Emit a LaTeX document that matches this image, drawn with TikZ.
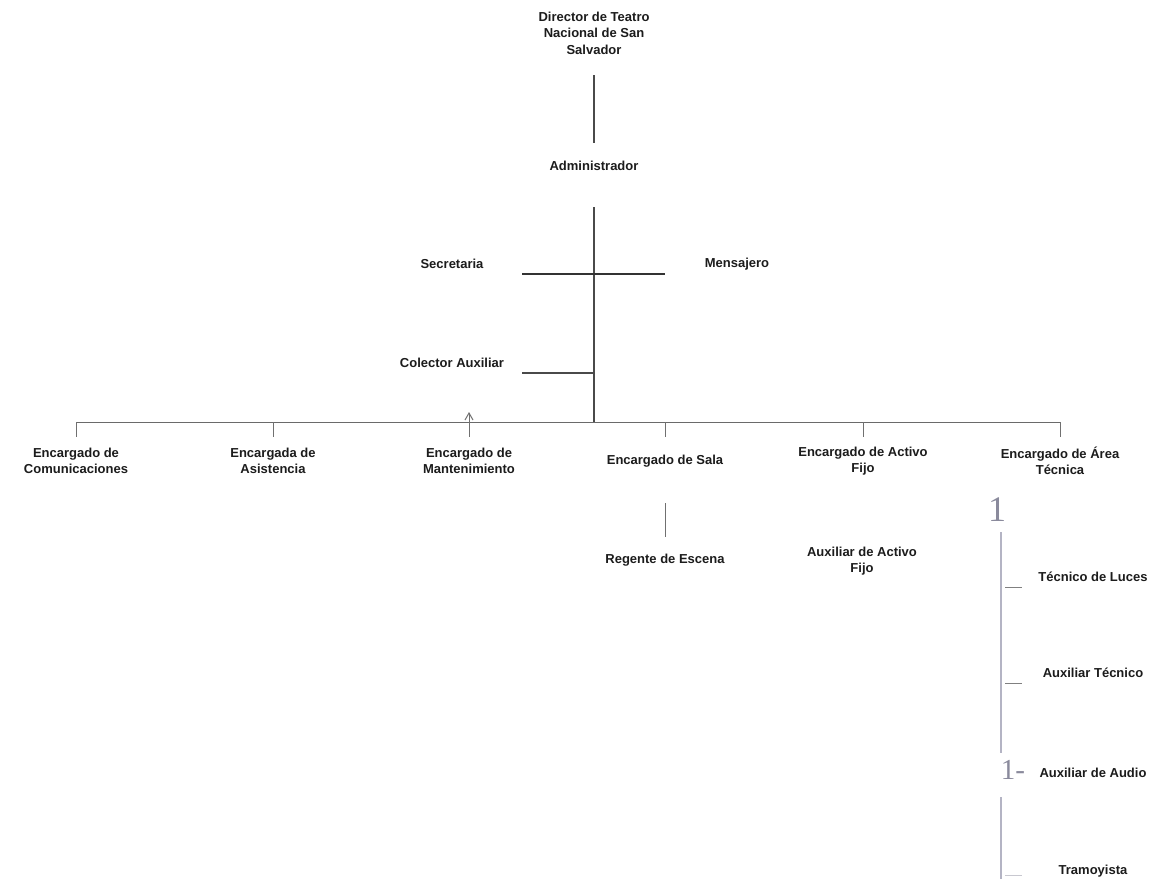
\documentclass[tikz,border=0pt]{standalone}
\usepackage{fontspec}
\setmainfont{Liberation Sans}
\newfontfamily\artfont{Liberation Serif}
\definecolor{txt}{HTML}{1C1C1C}
\definecolor{trunkc}{HTML}{4A4A4A}
\definecolor{secc}{HTML}{333333}
\definecolor{busc}{HTML}{6A6A6A}
\definecolor{dropc}{HTML}{707070}
\definecolor{rvc}{HTML}{B4B4C4}
\definecolor{tickc}{HTML}{808080}
\definecolor{faintc}{HTML}{C8C8D0}
\definecolor{artc}{HTML}{8A8A9C}
\begin{document}
\begin{tikzpicture}[x=1pt,y=-1pt,
  lbl/.style={font=\fontsize{13}{16.5}\selectfont\bfseries, text=txt, align=center, inner sep=0pt},
  art/.style={text=artc, inner sep=0pt},
  trunk/.style={draw=trunkc, line width=1.1pt},
  secline/.style={draw=secc, line width=1.6pt},
  busline/.style={draw=busc, line width=1pt},
  dropline/.style={draw=dropc, line width=1pt},
  rvline/.style={draw=rvc, line width=1.2pt},
  tickline/.style={draw=tickc, line width=1pt}]
\useasboundingbox[fill=white] (0,0) rectangle (1153,879);
\begin{scope}
\clip (0,0) rectangle (1153,879);
% nodes
\node[lbl] (dir) at (594,33) {Director de Teatro\\Nacional de San\\Salvador};
\node[lbl] (adm) at (594,166) {Administrador};
\node[lbl] (sec) at (452,264) {Secretaria};
\node[lbl] (men) at (737,264) {Mensajero};
\node[lbl] (col) at (452,363) {Colector Auxiliar};
\node[lbl] (com) at (76,461) {Encargado de\\Comunicaciones};
\node[lbl] (asi) at (273,461) {Encargada de\\Asistencia};
\node[lbl] (man) at (469,461) {Encargado de\\Mantenimiento};
\node[lbl] (sal) at (665,461) {Encargado de Sala};
\node[lbl] (act) at (863,461) {Encargado de Activo\\Fijo};
\node[lbl] (are) at (1060,461) {Encargado de Área\\Técnica};
\node[lbl] (reg) at (665,560) {Regente de Escena};
\node[lbl] (aux) at (862,561) {Auxiliar de Activo\\Fijo};
\node[lbl] (luc) at (1093,577) {Técnico de Luces};
\node[lbl] (aut) at (1093,673) {Auxiliar Técnico};
\node[lbl] (aud) at (1093,773) {Auxiliar de Audio};
\node[lbl] (tra) at (1093,871) {Tramoyista};
% scan artefacts printed in the picture
\node[art, font=\artfont\fontsize{36}{36}\selectfont] (a1) at (997,510) {1};
\node[art, font=\artfont\fontsize{29}{29}\selectfont] (a2) at (1013,770) {1-};
% junction coordinates
\coordinate (t1) at (594,75);
\coordinate (t2) at (594,143);
\coordinate (t3) at (594,207);
\coordinate (busy) at (594,422);
\coordinate (dropy) at (594,437);
\coordinate (s1) at (522,274);
\coordinate (s2) at (665,274);
\coordinate (c1) at (522,373);
\coordinate (r1) at (665,503);
\coordinate (r2) at (665,537);
\coordinate (v1) at (1001,532);
\coordinate (v2) at (1001,753);
\coordinate (v3) at (1001,797);
\coordinate (v4) at (1001,879);
\coordinate (k1) at (1005,587);
\coordinate (k2) at (1005,683);
\coordinate (k3) at (1005,875);
% connectors
\draw[trunk] (dir.south |- t1) -- (adm.north |- t2);
\draw[trunk] (adm.south |- t3) -- (adm.south |- busy);
\draw[secline] (s1) -- (s2);
\draw[trunk] (c1) -- (c1 -| adm.south);
\draw[busline] (com.north |- busy) -- (are.north |- busy);
\foreach \n in {com,asi,sal,act,are}
  \draw[dropline] (\n.north |- busy) -- (\n.north |- dropy);
\draw[dropline] (man.north |- 0,413) -- (man.north |- dropy);
\draw[dropline] ([xshift=-4pt]man.north |- 0,420) -- (man.north |- 0,413) -- ([xshift=4pt]man.north |- 0,420);
\draw[dropline] (sal.south |- r1) -- (reg.north |- r2);
\draw[rvline] (v1) -- (v2);
\draw[rvline] (v3) -- (v4);
\draw[tickline] (k1) -- ++(17,0);
\draw[tickline] (k2) -- ++(17,0);
\draw[draw=faintc, line width=1pt] (k3) -- ++(17,0);
\end{scope}
\end{tikzpicture}
\end{document}
